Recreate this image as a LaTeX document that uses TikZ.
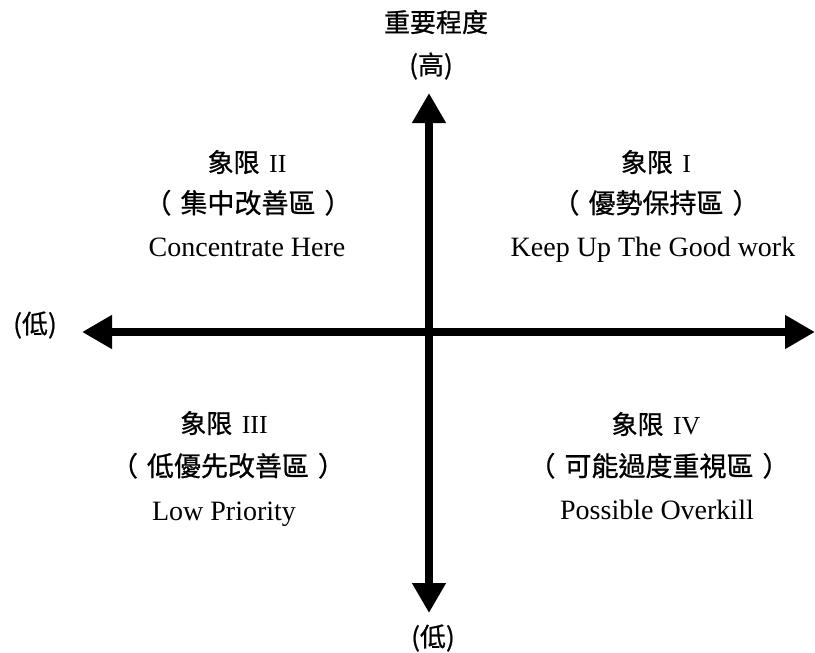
\documentclass[tikz,border=0pt]{standalone}
\usepackage{fontspec}
\setmainfont{Liberation Serif}
\newfontfamily\cjk[FakeBold=0.8]{Noto Sans CJK TC}
\usetikzlibrary{arrows.meta}
\newcommand{\lp}{（\hspace{9pt}}
\newcommand{\rp}{\hspace{9pt}）}
\begin{document}
\begin{tikzpicture}[x=1pt,y=-1pt,
  axisline/.style={line width=8pt,{Triangle[length=30pt,width=32pt]}-{Triangle[length=30pt,width=32pt]}},
  cjklabel/.style={inner sep=0pt,font=\cjk\fontsize{26}{30}\selectfont},
  qtitle/.style={inner sep=0pt,anchor=base,font=\fontsize{26}{30}\selectfont},
  qcn/.style={inner sep=0pt,anchor=base,font=\cjk\fontsize{27}{32}\selectfont},
  qen/.style={inner sep=0pt,anchor=base,font=\fontsize{28}{32}\selectfont}]
\useasboundingbox (0,0) rectangle (815,653);
% axes
\coordinate (top) at (429,93);
\coordinate (bottom) at (429,613);
\coordinate (left) at (82,332);
\coordinate (right) at (815,332);
\draw[axisline] (bottom) -- (top);
\draw[axisline] (left) -- (right);
% axis labels
\node[cjklabel,font=\cjk\fontsize{26}{30}\selectfont] (ytitle) at (436,22) {重要程度};
\node[cjklabel] (yhigh) at (431,66) {(高)};
\node[cjklabel] (xlow) at (35,325) {(低)};
\node[cjklabel] (ylow) at (433,638) {(低)};
% quadrant II
\node[qtitle] (q2a) at (247,172) {{\cjk 象限}\hspace{3pt} II};
\node[qcn] (q2b) at (248,213) {\lp 集中改善區\rp};
\node[qen] (q2c) at (247,256) {Concentrate Here};
% quadrant I
\node[qtitle] (q1a) at (656,172) {{\cjk 象限}\hspace{3pt} I};
\node[qcn] (q1b) at (656,213) {\lp 優勢保持區\rp};
\node[qen] (q1c) at (653,256) {Keep Up The Good work};
% quadrant III
\node[qtitle] (q3a) at (224,433) {{\cjk 象限}\hspace{3pt} III};
\node[qcn] (q3b) at (228,476) {\lp 低優先改善區\rp};
\node[qen] (q3c) at (224,520) {Low Priority};
% quadrant IV
\node[qtitle] (q4a) at (656,434) {{\cjk 象限}\hspace{3pt} IV};
\node[qcn] (q4b) at (659,476) {\lp 可能過度重視區\rp};
\node[qen] (q4c) at (657,519) {Possible Overkill};
\end{tikzpicture}
\end{document}
